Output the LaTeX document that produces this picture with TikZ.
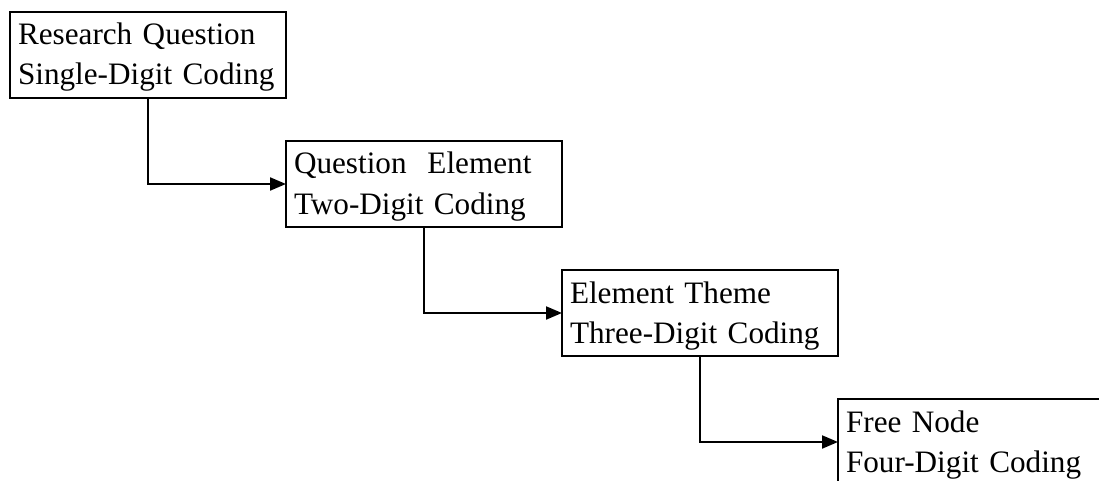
\documentclass[tikz,border=0pt]{standalone}
\usepackage{fontspec}
\setmainfont{Liberation Serif}
\usetikzlibrary{positioning,arrows.meta}
\hyphenpenalty=10000

\begin{document}
\begin{tikzpicture}[x=1pt, y=-1pt, node distance=43pt and 0pt, codebox/.style={rectangle, draw, line width=2pt, outer sep=0pt, text width=260pt, align=left, inner xsep=8pt, inner ysep=11pt, text height=22pt, text depth=42pt, font=\fontsize{31.2}{40}\selectfont}, flow/.style={-{Triangle[length=16pt,width=13pt]}, line width=2pt}]
   \useasboundingbox (0,0) rectangle (1099,481);
   \clip (0,0) rectangle (1099,481);
   \node[codebox, anchor=north west] (rq) at (10,12) {Research Question\\Single-Digit Coding};
   \node[codebox, below right=of rq.south east] (qe) {Question\ \ Element\\Two-Digit Coding};
   \node[codebox, below right=of qe.south east] (et) {Element Theme\\Three-Digit Coding};
   \node[codebox, below right=of et.south east] (fn) {Free Node\\Four-Digit Coding};
   \draw[flow] (rq) |- (qe);
   \draw[flow] (qe) |- (et);
   \draw[flow] (et) |- (fn);

 \end{tikzpicture}
\end{document}
